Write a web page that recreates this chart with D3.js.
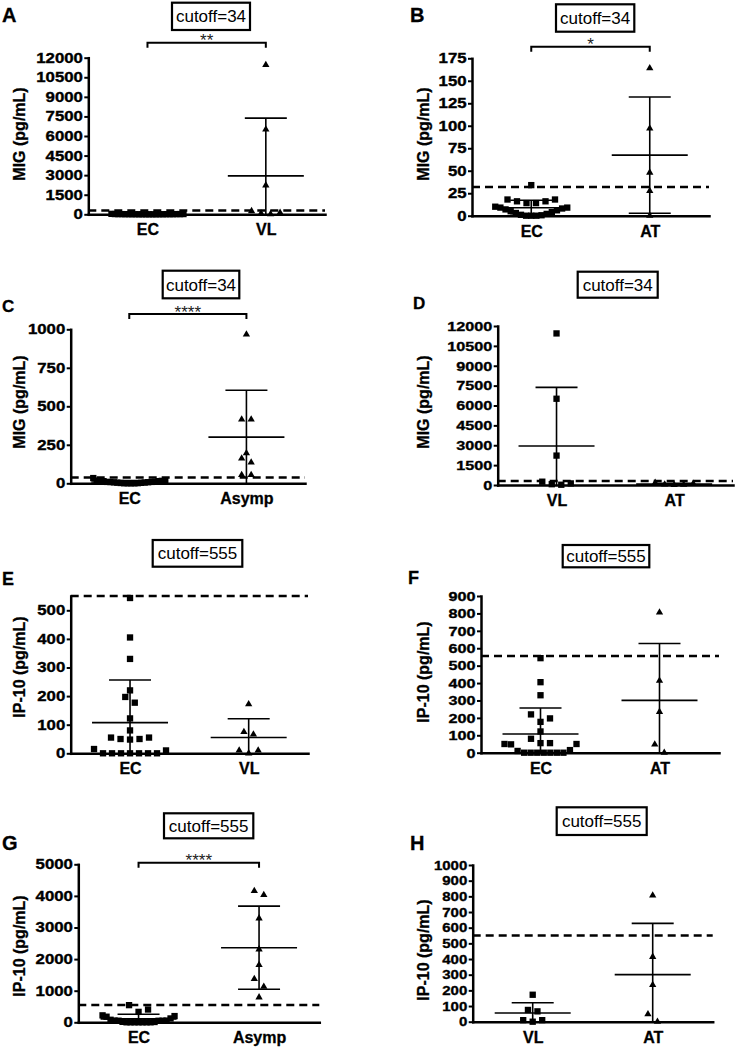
<!DOCTYPE html>
<html><head><meta charset="utf-8">
<script src="https://cdn.jsdelivr.net/npm/d3@7"></script>
<style>
body{margin:0;background:#fff}
svg{display:block}
text{font-family:"Liberation Sans",Arial,sans-serif}
</style>
</head><body>
<svg id="chart" width="736" height="1049"></svg>
<script>
// ---------------- DATA ----------------
const panelLetters = ["A","B","C","D","E","F","G","H"];
const cutoffLabels = ["cutoff=34","cutoff=34","cutoff=34","cutoff=34","cutoff=555","cutoff=555","cutoff=555","cutoff=555"];
const yTitles = ["MIG (pg/mL)","MIG (pg/mL)","MIG (pg/mL)","MIG (pg/mL)","IP-10 (pg/mL)","IP-10 (pg/mL)","IP-10 (pg/mL)","IP-10 (pg/mL)"];
const groupNames = [["EC","VL"],["EC","AT"],["EC","Asymp"],["VL","AT"],["EC","VL"],["EC","AT"],["EC","Asymp"],["VL","AT"]];

const migEC    = [34, 18, 18, 16, 16, 14, 14, 10, 9, 9, 8, 7, 6, 5, 4, 3, 2, 1, 0.5, 0, 0, 0];
const migVL    = [11440, 6510, 2220, 250, 120, 60, 20];
const migAT    = [164, 97, 48, 27.5, 0];
const migAsymp = [967, 415, 415, 195, 162, 136, 54, 54];

const ip10EC    = [543, 405, 330, 220, 197, 177, 122, 80, 55, 55, 50, 50, 48, 15, 10, 0, 0, 0, 0, 0, 0, 0];
const ip10VL    = [172, 75, 66, 10, 10, 0];
const ip10AT    = [806, 414, 235, 48, 0];
const ip10Asymp = [4155, 4028, 3291, 2310, 1813, 1370, 1127, 791];

const panelSeries = [
  [migEC, migVL], [migEC, migAT], [migEC, migAsymp], [migVL, migAT],
  [ip10EC, ip10VL], [ip10EC, ip10AT], [ip10EC, ip10Asymp], [ip10VL, ip10AT]
];

const yMax = [12000, 175, 1000, 12000, 550, 900, 5000, 1000];
const yTicks = [
  [0,1500,3000,4500,6000,7500,9000,10500,12000],
  [0,25,50,75,100,125,150,175],
  [0,250,500,750,1000],
  [0,1500,3000,4500,6000,7500,9000,10500,12000],
  [0,100,200,300,400,500],
  [0,100,200,300,400,500,600,700,800,900],
  [0,1000,2000,3000,4000,5000],
  [0,100,200,300,400,500,600,700,800,900,1000]
];
const cutoffLine = [300, 32, 37, 300, 550, 555, 550, 550];
const significance = ["**","*","****","","","","****",""];

// ---------------- LAYOUT ----------------
const layout = [
  {x0:88.3, x1:325, yTop:57.7, yBase:214.3, titleX:25, titleY:134, letterX:2, letterY:22, letterSize:20, box:[172,2.7,250,30], bracketY:42.7, tickFont:14},
  {x0:472, x1:709, yTop:58.3, yBase:215.7, titleX:429, titleY:134, letterX:410, letterY:22, letterSize:20, box:[556,4.3,634.3,31.7], bracketY:46.7, tickFont:14},
  {x0:70.7, x1:305, yTop:329.3, yBase:483.3, titleX:25, titleY:402, letterX:2, letterY:311.7, letterSize:17, box:[162.7,270.7,239.3,298.3], bracketY:314, tickFont:14},
  {x0:497.7, x1:733, yTop:326, yBase:485, titleX:429, titleY:402, letterX:413, letterY:309.3, letterSize:17, box:[577.7,271.7,657.7,297.7], bracketY:0, tickFont:13.5},
  {x0:70.7, x1:308, yTop:596, yBase:753.3, titleX:25, titleY:667, letterX:2, letterY:585, letterSize:18, box:[152.7,540,242.3,566.7], bracketY:0, tickFont:14},
  {x0:481, x1:719, yTop:596, yBase:752.7, titleX:429, titleY:672, letterX:408, letterY:584, letterSize:18, box:[562.7,545,649.3,567.3], bracketY:0, tickFont:13.5},
  {x0:78.3, x1:319.3, yTop:864.3, yBase:1022.3, titleX:25, titleY:946, letterX:2, letterY:850, letterSize:20, box:[164,813.3,253.3,838.3], bracketY:862.7, tickFont:14},
  {x0:472.7, x1:712.7, yTop:865, yBase:1021.7, titleX:429, titleY:950, letterX:410, letterY:850, letterSize:20, box:[556.7,807.3,646.7,835], bracketY:0, tickFont:12.5}
];

const FONT = '"Liberation Sans", Arial, sans-serif';
const svg = d3.select("#chart");
svg.append("rect").attr("width",736).attr("height",1049).attr("fill","#fff");

// column-scatter arrangement (GraphPad-like): rows of colliding points spread horizontally
function arrange(values, y, rowH, sp, maxW) {
  const pts = values.map(v => ({v, py: y(v)})).sort((a,b) => a.v - b.v);
  const rows = [];
  let cur = null;
  for (const p of pts) {
    if (cur && (cur[0].py - p.py) <= rowH) cur.push(p);
    else { cur = [p]; rows.push(cur); }
  }
  for (const row of rows) {
    const n = row.length;
    const s = n > 1 ? Math.min(sp, maxW / (n - 1)) : 0;
    const slots = d3.range(n).map(i => (i - (n - 1) / 2) * s);
    slots.sort((a,b) => (Math.abs(a) - Math.abs(b)) || (b - a));
    row.forEach((p, i) => p.dx = slots[i]);
  }
  return pts;
}

const squareSym = d3.symbol().type(d3.symbolSquare).size(40);
const triSym = d3.symbol().type(d3.symbolTriangle).size(23);

panelSeries.forEach((series, i) => {
  const L = layout[i];
  const g = svg.append("g");
  const y = d3.scaleLinear().domain([0, yMax[i]]).range([L.yBase, L.yTop]);
  const x = d3.scalePoint().domain(groupNames[i]).range([L.x0, L.x1]).padding(0.5);

  // panel letter
  g.append("text").attr("x", L.letterX).attr("y", L.letterY)
    .attr("font-size", L.letterSize).attr("font-weight","bold")
    .attr("stroke","#000").attr("stroke-width",0.3).text(panelLetters[i]);

  // cutoff box
  const [bx1, by1, bx2, by2] = L.box;
  g.append("rect").attr("x", bx1).attr("y", by1).attr("width", bx2 - bx1).attr("height", by2 - by1)
    .attr("fill","#fff").attr("stroke","#000").attr("stroke-width",2.2);
  g.append("text").attr("x", (bx1 + bx2) / 2).attr("y", (by1 + by2) / 2 + 6)
    .attr("text-anchor","middle").attr("font-size",17).text(cutoffLabels[i]);

  // y axis
  const ya = g.append("g").attr("transform", `translate(${L.x0},0)`)
    .call(d3.axisLeft(y).tickValues(yTicks[i]).tickSize(4).tickSizeOuter(0).tickPadding(0.5).tickFormat(d3.format("d")));
  ya.attr("font-family", FONT);
  ya.select(".domain").attr("stroke","#000").attr("stroke-width",2.5).attr("stroke-linecap","square");
  ya.selectAll(".tick line").attr("stroke","#000").attr("stroke-width",2);
  ya.selectAll(".tick text").attr("font-size", L.tickFont).attr("font-weight","bold")
    .attr("fill","#000").attr("stroke","#000").attr("stroke-width",0.35)
    .attr("transform","scale(1.2,1)");

  // x axis
  const xa = g.append("g").attr("transform", `translate(0,${L.yBase})`)
    .call(d3.axisBottom(x).tickSize(0).tickSizeOuter(0).tickPadding(9.6));
  xa.attr("font-family", FONT);
  xa.select(".domain").attr("stroke","#000").attr("stroke-width",2.5).attr("stroke-linecap","square");
  xa.selectAll(".tick text").attr("font-size",16).attr("font-weight","bold").attr("fill","#000")
    .attr("stroke","#000").attr("stroke-width",0.3);

  // y title
  g.append("text").attr("transform", `translate(${L.titleX},${L.titleY}) rotate(-90)`)
    .attr("text-anchor","middle").attr("font-size",16).attr("font-weight","bold")
    .attr("stroke","#000").attr("stroke-width",0.3).text(yTitles[i]);

  // cutoff dashed line
  g.append("line").attr("x1", L.x0).attr("x2", L.x1)
    .attr("y1", y(cutoffLine[i])).attr("y2", y(cutoffLine[i]))
    .attr("stroke","#000").attr("stroke-width",2.5).attr("stroke-dasharray","8,5");

  // points
  series.forEach((vals, j) => {
    const cx = x(groupNames[i][j]);
    const pts = arrange(vals, y, 9, 9.5, 72);
    g.append("g").selectAll("path").data(pts).join("path")
      .attr("d", j === 0 ? squareSym : triSym)
      .attr("transform", d => `translate(${cx + d.dx},${d.py})`)
      .attr("fill","#000");
  });

  // mean +/- SD
  series.forEach((vals, j) => {
    const cx = x(groupNames[i][j]);
    const m = d3.mean(vals), s = d3.deviation(vals);
    const top = Math.min(m + s, yMax[i]), bot = Math.max(m - s, 0);
    const eg = g.append("g").attr("stroke","#000").attr("stroke-width",1.6);
    eg.append("line").attr("x1",cx).attr("x2",cx).attr("y1",y(bot)).attr("y2",y(top));
    if (m + s <= yMax[i]) eg.append("line").attr("x1",cx-21).attr("x2",cx+21).attr("y1",y(m+s)).attr("y2",y(m+s));
    if (m - s > 0) eg.append("line").attr("x1",cx-21).attr("x2",cx+21).attr("y1",y(m-s)).attr("y2",y(m-s));
    eg.append("line").attr("x1",cx-38).attr("x2",cx+38).attr("y1",y(m)).attr("y2",y(m));
  });

  // significance bracket
  if (significance[i]) {
    const c1 = x(groupNames[i][0]), c2 = x(groupNames[i][1]), by = L.bracketY;
    g.append("path").attr("d", `M${c1},${by+5}V${by}H${c2}V${by+5}`)
      .attr("fill","none").attr("stroke","#000").attr("stroke-width",2);
    g.append("text").attr("x",(c1+c2)/2).attr("y", by + 3.5).attr("text-anchor","middle")
      .attr("font-size",17).attr("fill","#222").text(significance[i]);
  }
});
</script>
</body></html>
